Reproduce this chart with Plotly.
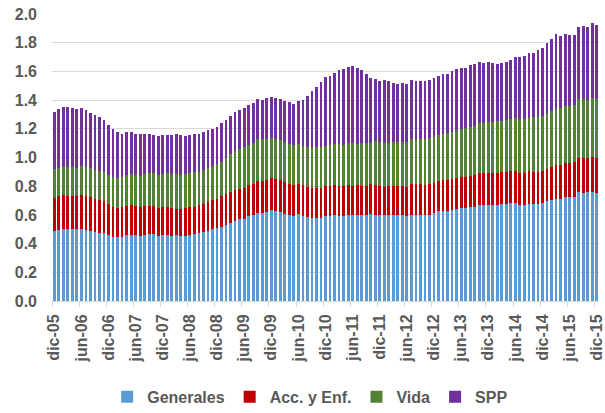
import plotly.graph_objects as go

months = []
for y in range(5, 16):
    for m in ["ene", "feb", "mar", "abr", "may", "jun", "jul", "ago", "sep", "oct", "nov", "dic"]:
        months.append(f"{m}-{y:02d}")
categories = months[months.index("dic-05"):months.index("dic-15") + 1]

generales = [0.487, 0.494, 0.501, 0.499, 0.499, 0.499, 0.501, 0.494, 0.487, 0.478, 0.471, 0.471,
             0.457, 0.445, 0.443, 0.445, 0.457, 0.457, 0.457, 0.455, 0.459, 0.466, 0.466, 0.452,
             0.457, 0.457, 0.452, 0.457, 0.452, 0.452, 0.457, 0.464, 0.471, 0.478, 0.490, 0.499,
             0.506, 0.515, 0.529, 0.547, 0.560, 0.569, 0.574, 0.590, 0.597, 0.616, 0.613, 0.623,
             0.632, 0.625, 0.620, 0.606, 0.599, 0.595, 0.604, 0.595, 0.583, 0.581, 0.578, 0.578,
             0.592, 0.595, 0.602, 0.595, 0.595, 0.602, 0.599, 0.599, 0.602, 0.602, 0.609, 0.602,
             0.599, 0.597, 0.602, 0.599, 0.599, 0.599, 0.595, 0.602, 0.599, 0.599, 0.599, 0.602,
             0.616, 0.627, 0.630, 0.627, 0.634, 0.639, 0.646, 0.648, 0.653, 0.653, 0.667, 0.667,
             0.667, 0.667, 0.667, 0.676, 0.676, 0.683, 0.683, 0.671, 0.671, 0.678, 0.676, 0.678,
             0.681, 0.695, 0.704, 0.711, 0.713, 0.722, 0.725, 0.725, 0.757, 0.755, 0.757, 0.760,
             0.755]
acc_enf = [0.232, 0.237, 0.237, 0.234, 0.234, 0.234, 0.237, 0.237, 0.237, 0.232, 0.232, 0.225,
           0.220, 0.209, 0.207, 0.207, 0.207, 0.209, 0.204, 0.202, 0.200, 0.198, 0.193, 0.198,
           0.197, 0.197, 0.195, 0.186, 0.191, 0.193, 0.195, 0.188, 0.195, 0.199, 0.201, 0.204,
           0.204, 0.214, 0.220, 0.211, 0.215, 0.209, 0.213, 0.216, 0.221, 0.223, 0.223, 0.223,
           0.223, 0.223, 0.221, 0.221, 0.216, 0.213, 0.211, 0.211, 0.211, 0.209, 0.209, 0.209,
           0.209, 0.209, 0.206, 0.209, 0.206, 0.206, 0.205, 0.207, 0.202, 0.202, 0.204, 0.204,
           0.202, 0.200, 0.202, 0.205, 0.205, 0.205, 0.202, 0.213, 0.214, 0.214, 0.207, 0.211,
           0.206, 0.209, 0.211, 0.214, 0.214, 0.216, 0.216, 0.216, 0.218, 0.223, 0.225, 0.225,
           0.225, 0.225, 0.225, 0.223, 0.223, 0.221, 0.221, 0.223, 0.223, 0.226, 0.223, 0.223,
           0.223, 0.227, 0.232, 0.237, 0.237, 0.242, 0.239, 0.244, 0.240, 0.242, 0.240, 0.243,
           0.242]
vida = [0.202, 0.199, 0.199, 0.204, 0.200, 0.197, 0.204, 0.204, 0.204, 0.204, 0.202, 0.200,
        0.200, 0.207, 0.208, 0.209, 0.211, 0.216, 0.216, 0.215, 0.225, 0.225, 0.230, 0.227,
        0.232, 0.235, 0.235, 0.241, 0.234, 0.237, 0.237, 0.244, 0.232, 0.233, 0.237, 0.239,
        0.246, 0.243, 0.246, 0.264, 0.269, 0.284, 0.284, 0.283, 0.283, 0.288, 0.291, 0.285,
        0.283, 0.281, 0.281, 0.283, 0.281, 0.279, 0.279, 0.276, 0.277, 0.281, 0.284, 0.284,
        0.281, 0.285, 0.286, 0.288, 0.286, 0.291, 0.295, 0.290, 0.299, 0.299, 0.290, 0.307,
        0.305, 0.306, 0.297, 0.306, 0.306, 0.306, 0.313, 0.312, 0.314, 0.314, 0.323, 0.321,
        0.323, 0.323, 0.325, 0.330, 0.332, 0.334, 0.334, 0.339, 0.344, 0.346, 0.346, 0.351,
        0.353, 0.355, 0.360, 0.358, 0.362, 0.367, 0.369, 0.372, 0.374, 0.374, 0.381, 0.384,
        0.383, 0.383, 0.386, 0.392, 0.393, 0.395, 0.397, 0.397, 0.408, 0.408, 0.406, 0.414,
        0.411]
spp = [0.399, 0.406, 0.416, 0.416, 0.413, 0.409, 0.401, 0.397, 0.385, 0.383, 0.376, 0.364,
       0.353, 0.339, 0.318, 0.306, 0.301, 0.294, 0.285, 0.290, 0.283, 0.276, 0.269, 0.271,
       0.272, 0.271, 0.278, 0.278, 0.278, 0.271, 0.271, 0.269, 0.264, 0.266, 0.262, 0.258,
       0.260, 0.265, 0.263, 0.266, 0.270, 0.271, 0.272, 0.277, 0.279, 0.278, 0.276, 0.281,
       0.281, 0.286, 0.283, 0.284, 0.288, 0.288, 0.297, 0.319, 0.358, 0.390, 0.420, 0.453,
       0.477, 0.481, 0.495, 0.518, 0.530, 0.534, 0.536, 0.528, 0.507, 0.481, 0.453, 0.434,
       0.427, 0.437, 0.430, 0.407, 0.400, 0.407, 0.405, 0.411, 0.406, 0.404, 0.402, 0.406,
       0.409, 0.407, 0.416, 0.413, 0.423, 0.428, 0.430, 0.423, 0.427, 0.427, 0.425, 0.416,
       0.418, 0.409, 0.397, 0.399, 0.407, 0.406, 0.430, 0.434, 0.442, 0.448, 0.451, 0.466,
       0.478, 0.491, 0.501, 0.518, 0.506, 0.504, 0.490, 0.488, 0.502, 0.514, 0.506, 0.518,
       0.513]

series = [("Generales", generales, "#5B9BD5"),
          ("Acc. y Enf.", acc_enf, "#C00000"),
          ("Vida", vida, "#548235"),
          ("SPP", spp, "#7030A0")]

y_ticks = [0.0, 0.2, 0.4, 0.6, 0.8, 1.0, 1.2, 1.4, 1.6, 1.8, 2.0]

x_idx = list(range(len(categories)))
label_idx = [i for i in x_idx if i % 6 == 0]
label_text = [categories[i] for i in label_idx]

FAM = "Liberation Sans, Arial, sans-serif"
GREY = "#595959"

fig = go.Figure()
for name, vals, col in series:
    fig.add_trace(go.Bar(x=x_idx, y=vals, name=name, marker=dict(color=col, line=dict(width=0))))

fig.update_layout(
    barmode="stack",
    bargap=0.38,
    width=605, height=413,
    margin=dict(l=52, r=6, t=14, b=112, autoexpand=False),
    plot_bgcolor="white", paper_bgcolor="white",
    font=dict(family=FAM, size=15, color=GREY, weight="bold"),
    showlegend=True,
    legend=dict(orientation="h", x=0.472, xanchor="center", y=-0.334, yanchor="middle",
                font=dict(family=FAM, size=16, color=GREY, weight="bold"),
                itemwidth=30, traceorder="normal", tracegroupgap=0, bgcolor="rgba(0,0,0,0)"),
)
fig.update_xaxes(
    automargin=False,
    range=[-0.5, len(categories) - 0.5],
    tickmode="array", tickvals=label_idx, ticktext=label_text,
    tickangle=-90, ticks="", showgrid=False,
    showline=True, linecolor="#D9D9D9", linewidth=1,
    ticklabelstandoff=6, ticklabeloverflow="allow",
    tickfont=dict(family=FAM, size=16, color=GREY, weight="bold"),
    minor=dict(ticks="outside", tick0=-0.5, dtick=6, ticklen=5, tickcolor="#D9D9D9", showgrid=False),
)
fig.update_yaxes(
    automargin=False,
    range=[0, 2.0], tickmode="array", tickvals=y_ticks,
    ticktext=[f"{v:.1f}" for v in y_ticks],
    showgrid=True, gridcolor="#D9D9D9", gridwidth=1, zeroline=False,
    ticks="", ticklabelstandoff=14,
    tickfont=dict(family=FAM, size=16, color=GREY, weight="bold"),
)

fig.write_html("out.html",
               config={"displayModeBar": False},
               post_script="document.body.style.margin='0';document.body.style.overflow='hidden';")
